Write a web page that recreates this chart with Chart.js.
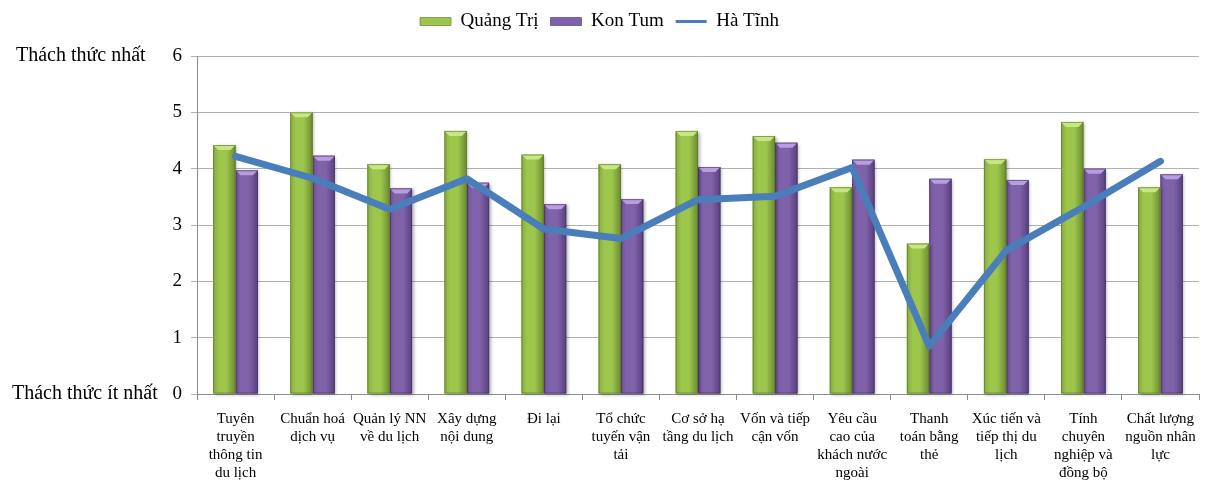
<!DOCTYPE html>
<html>
<head>
<meta charset="utf-8">
<script src="https://cdn.jsdelivr.net/npm/chart.js@4/dist/chart.umd.min.js"></script>
<style>
    html, body { margin: 0; padding: 0; background: #fff; }
    #wrap { width: 1214px; height: 481px; }
</style>
</head>
<body>
<div id="wrap"><canvas id="challengeChart" width="1214" height="481"></canvas></div>
<script>
// categories, one array of lines per label
const categories = [
    ["Tuyên", "truyền", "thông tin", "du lịch"],
    ["Chuẩn hoá", "dịch vụ"],
    ["Quản lý NN", "về du lịch"],
    ["Xây dựng", "nội dung"],
    ["Đi lại"],
    ["Tổ chức", "tuyến vận", "tải"],
    ["Cơ sở hạ", "tầng du lịch"],
    ["Vốn và tiếp", "cận vốn"],
    ["Yêu cầu", "cao của", "khách nước", "ngoài"],
    ["Thanh", "toán bằng", "thẻ"],
    ["Xúc tiến và", "tiếp thị du", "lịch"],
    ["Tính", "chuyên", "nghiệp và", "đồng bộ"],
    ["Chất lượng", "nguồn nhân", "lực"]
];
const quangTri = [4.42, 5.0, 4.08, 4.67, 4.25, 4.08, 4.67, 4.58, 3.67, 2.67, 4.17, 4.83, 3.67];
const konTum   = [3.97, 4.23, 3.65, 3.75, 3.37, 3.46, 4.03, 4.46, 4.16, 3.82, 3.80, 4.00, 3.90];
const haTinh   = [4.22, 3.83, 3.28, 3.82, 2.93, 2.76, 3.45, 3.51, 4.02, 0.85, 2.55, 3.32, 4.13];
const seriesNames = ["Quảng Trị", "Kon Tum", "Hà Tĩnh"];
const yTicks = [0, 1, 2, 3, 4, 5, 6];
const yEndLabels = { top: "Thách thức nhất", bottom: "Thách thức ít nhất" };

const FONT = "'Liberation Serif', 'DejaVu Serif', serif";

// leave a fixed band above the plot for the legend
const legendBand = {
    id: 'legendBand',
    beforeInit (chart) {
        const fit = chart.legend.fit;
        chart.legend.fit = function () {
            fit.call(this);
            this.height = 56;
        };
    }
};

// gives each bar a rounded 3d look: side gradient + bevelled cap
const barShading = {
    id: 'barShading',
    afterDatasetDraw (chart, args) {
        const ds = chart.data.datasets[args.index];
        if (!ds.shade) return;
        const ctx = chart.ctx;
        const s = ds.shade;
        ctx.save();
        args.meta.data.forEach(bar => {
            const left = bar.x - bar.width / 2;
            const right = bar.x + bar.width / 2;
            const top = bar.y;
            const bottom = bar.base;
            const g = ctx.createLinearGradient(left, 0, right, 0);
            g.addColorStop(0, s.edge);
            g.addColorStop(0.25, s.mid);
            g.addColorStop(0.6, s.mid);
            g.addColorStop(1, s.dark);
            ctx.shadowColor = 'rgba(0,0,0,0.3)';
            ctx.shadowBlur = 3;
            ctx.shadowOffsetX = 1.5;
            ctx.shadowOffsetY = 1;
            ctx.fillStyle = g;
            ctx.fillRect(left, top, right - left, bottom - top);
            ctx.shadowColor = 'transparent';

            const b = Math.min(5, (bottom - top) / 2);
            ctx.fillStyle = s.cap;
            ctx.beginPath();
            ctx.moveTo(left, top);
            ctx.lineTo(right, top);
            ctx.lineTo(right - b, top + b);
            ctx.lineTo(left + b, top + b);
            ctx.closePath();
            ctx.fill();

            ctx.strokeStyle = s.line;
            ctx.lineWidth = 1;
            ctx.strokeRect(left + 0.5, top + 0.5, right - left - 1, bottom - top - 1);
        });
        ctx.restore();
    }
};

// text names for the two ends of the scale
const scaleEnds = {
    id: 'scaleEnds',
    afterDraw (chart) {
        const ctx = chart.ctx;
        const y = chart.scales.y;
        ctx.save();
        ctx.font = "20px " + FONT;
        ctx.fillStyle = '#000';
        ctx.textAlign = 'left';
        ctx.textBaseline = 'middle';
        ctx.fillText(yEndLabels.top, 16, y.getPixelForValue(yTicks[yTicks.length - 1]));
        ctx.fillText(yEndLabels.bottom, 12, y.getPixelForValue(yTicks[0]));
        ctx.restore();
    }
};

const greenShade = { mid: '#9cc64c', edge: '#86aa40', dark: '#6c8a31', cap: '#c8e683', line: 'rgba(90,115,40,0.6)' };
const purpleShade = { mid: '#8062ab', edge: '#7356a0', dark: '#58407c', cap: '#b89de0', line: 'rgba(70,50,100,0.6)' };

let ctx = document.getElementById('challengeChart');
var myChart = new Chart(ctx, {
    type: 'bar',
    data: {
        labels: categories,
        datasets: [
            {
                label: seriesNames[0],
                data: quangTri,
                backgroundColor: greenShade.mid,
                shade: greenShade,
                order: 1,
                categoryPercentage: 0.58,
                barPercentage: 1.0
            },
            {
                label: seriesNames[1],
                data: konTum,
                backgroundColor: purpleShade.mid,
                shade: purpleShade,
                order: 1,
                categoryPercentage: 0.58,
                barPercentage: 1.0
            },
            {
                type: 'line',
                label: seriesNames[2],
                data: haTinh,
                borderColor: '#4a7ebb',
                backgroundColor: '#4a7ebb',
                borderWidth: 7,
                borderCapStyle: 'round',
                borderJoinStyle: 'round',
                pointRadius: 0,
                tension: 0,
                order: 0
            }
        ]
    },
    plugins: [legendBand, barShading, scaleEnds],
    options: {
        responsive: false,
        animation: false,
        devicePixelRatio: 1,
        layout: { padding: { left: 0, right: 15, top: 0, bottom: 0 } },
        plugins: {
            tooltip: { enabled: false },
            legend: {
                display: true,
                position: 'top',
                labels: {
                    color: '#000',
                    font: { family: FONT, size: 19 },
                    usePointStyle: true,
                    pointStyleWidth: 31,
                    boxHeight: 8,
                    padding: 12,
                    sort: (a, b) => a.datasetIndex - b.datasetIndex,
                    generateLabels (chart) {
                        const items = Chart.defaults.plugins.legend.labels.generateLabels(chart);
                        items.forEach(it => {
                            const ds = chart.data.datasets[it.datasetIndex];
                            if (ds.type === 'line') {
                                it.pointStyle = 'line';
                                it.lineWidth = 3;
                                it.strokeStyle = ds.borderColor;
                            } else {
                                it.pointStyle = 'rect';
                                it.lineWidth = 1;
                                it.strokeStyle = ds.shade.line;
                            }
                        });
                        return items;
                    }
                }
            }
        },
        scales: {
            x: {
                afterFit (scale) { scale.height = 87; },
                grid: {
                    display: true,
                    offset: true,
                    drawOnChartArea: false,
                    drawTicks: true,
                    tickLength: 6,
                    color: '#8c8c8c'
                },
                border: { color: '#8c8c8c' },
                ticks: {
                    color: '#000',
                    font: { family: FONT, size: 15, lineHeight: 1.2 },
                    maxRotation: 0,
                    autoSkip: false,
                    padding: 10
                }
            },
            y: {
                min: 0,
                max: 6,
                afterFit (scale) { scale.width = 197; },
                afterBuildTicks (scale) { scale.ticks = yTicks.map(v => ({ value: v })); },
                grid: {
                    color: '#b0b0b0',
                    drawTicks: true,
                    tickLength: 6
                },
                border: { color: '#8c8c8c' },
                ticks: {
                    color: '#000',
                    font: { family: FONT, size: 19 },
                    padding: 9
                }
            }
        }
    }
});
</script>
</body>
</html>
